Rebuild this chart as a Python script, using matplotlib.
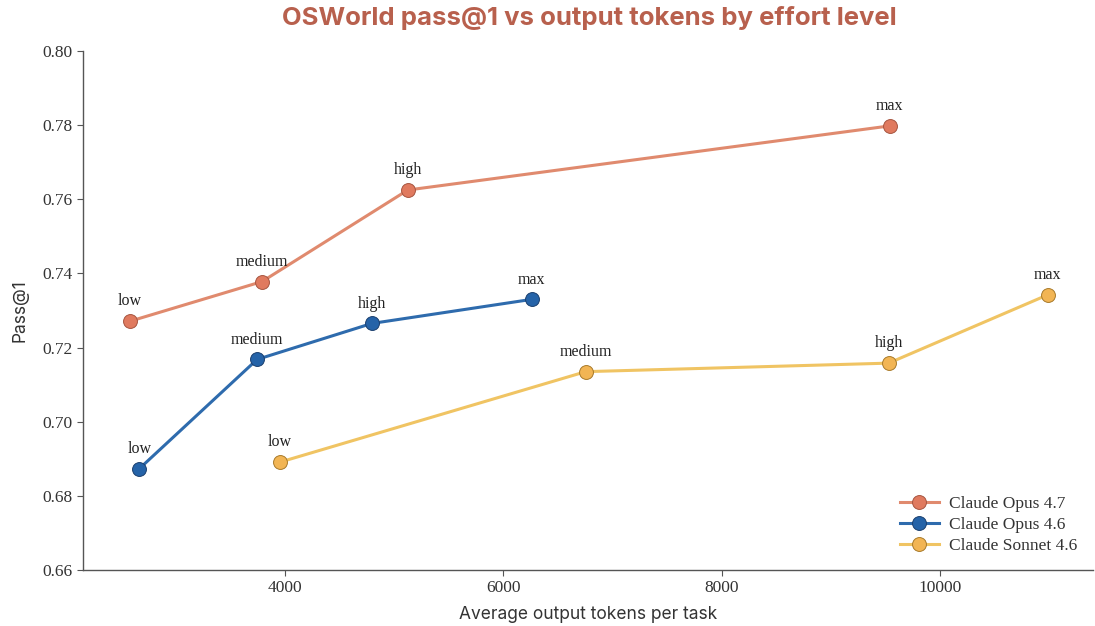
import matplotlib
matplotlib.use("Agg")
import matplotlib.pyplot as plt

# values
levels = ["low", "medium", "high", "max"]
opus47_tokens = [2580, 3790, 5125, 9540]
opus47_pass = [0.7271, 0.7378, 0.7625, 0.7798]
opus46_tokens = [2665, 3745, 4795, 6260]
opus46_pass = [0.6873, 0.7168, 0.7265, 0.7330]
sonnet46_tokens = [3955, 6755, 9530, 10985]
sonnet46_pass = [0.6891, 0.7135, 0.7158, 0.7342]

series = [
    ("Claude Opus 4.7", opus47_tokens, opus47_pass, "#E08A6E", "#E07A5F", "#A65540"),
    ("Claude Opus 4.6", opus46_tokens, opus46_pass, "#2E6BAD", "#2563A8", "#1B3F6E"),
    ("Claude Sonnet 4.6", sonnet46_tokens, sonnet46_pass, "#F0C463", "#F2B554", "#A87A2A"),
]

serif = ["Liberation Serif", "DejaVu Serif"]
sans = ["Inter", "DejaVu Sans"]

fig = plt.figure(figsize=(10.95, 6.26), dpi=100)
ax = fig.add_axes([0.0758, 0.0895, 0.9222, 0.829])

for name, xs, ys, lc, fc, ec in series:
    ax.plot(xs, ys, color=lc, lw=2.2, marker="o", markersize=10,
            markerfacecolor=fc, markeredgecolor=ec, markeredgewidth=0.7,
            label=name, zorder=3)
    for lab, x, y in zip(levels, xs, ys):
        ax.annotate(lab, (x, y), xytext=(0, 8.5), textcoords="offset points",
                    ha="center", va="bottom", fontsize=11.5, color="#222222",
                    family=serif)

ax.set_xlim(2150, 11400)
ax.set_ylim(0.66, 0.80)
ax.set_xticks([4000, 6000, 8000, 10000])
ax.set_yticks([0.66, 0.68, 0.70, 0.72, 0.74, 0.76, 0.78, 0.80])
ax.set_yticklabels([f"{v:.2f}" for v in ax.get_yticks()])

for s in ["top", "right"]:
    ax.spines[s].set_visible(False)
for s in ["left", "bottom"]:
    ax.spines[s].set_color("#555555")
    ax.spines[s].set_linewidth(1.0)
ax.tick_params(colors="#555555", labelcolor="#333333", labelsize=12.5, length=4)
for t in ax.get_xticklabels() + ax.get_yticklabels():
    t.set_family(serif)

ax.set_xlabel("Average output tokens per task", fontsize=12.5, color="#333333",
              family=sans, labelpad=7)
ax.set_ylabel("Pass@1", fontsize=12.5, color="#333333", family=sans, labelpad=10)
fig.suptitle("OSWorld pass@1 vs output tokens by effort level", x=0.538, y=0.99,
             fontsize=18.5, fontweight="bold", color="#B8604D", family=sans)

leg = ax.legend(loc="lower right", frameon=False, prop={"family": serif, "size": 12.5},
                handlelength=2.2, labelspacing=0.3, handletextpad=0.6,
                bbox_to_anchor=(1.0, 0.0))
for t in leg.get_texts():
    t.set_color("#333333")

fig.savefig("out.png", dpi=100)
